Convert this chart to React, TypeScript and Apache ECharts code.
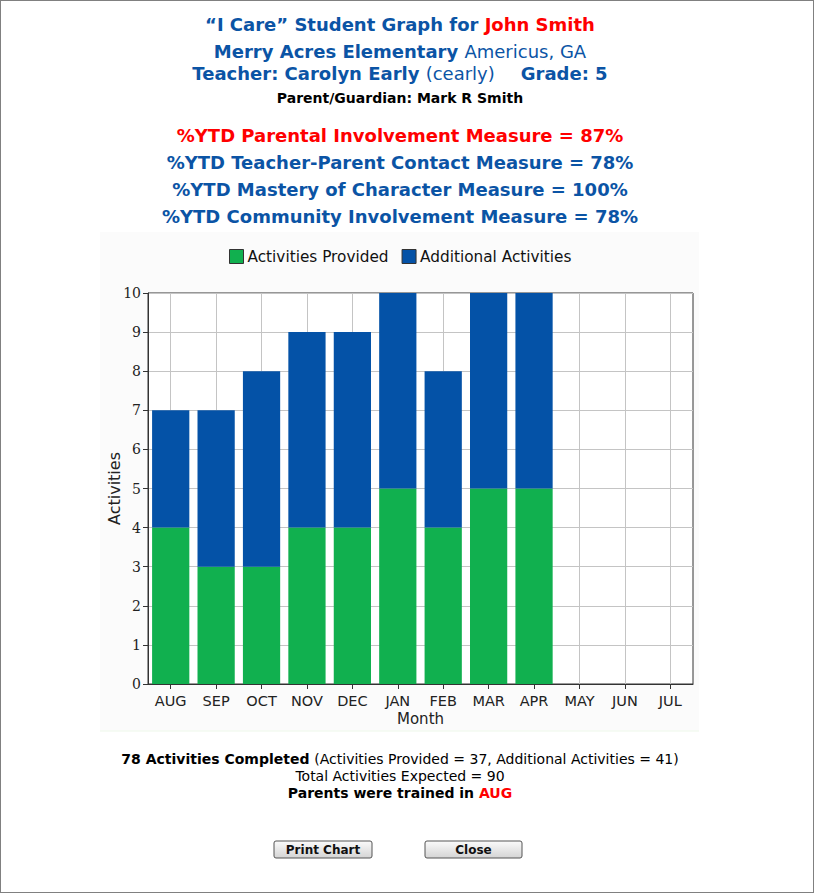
import React, { useEffect, useRef } from "react";
import * as echarts from "echarts";

const months = ["AUG", "SEP", "OCT", "NOV", "DEC", "JAN", "FEB", "MAR", "APR", "MAY", "JUN", "JUL"];
const provided = [4, 3, 3, 4, 4, 5, 4, 5, 5, null, null, null];
const additional = [3, 4, 5, 5, 5, 5, 4, 5, 5, null, null, null];
const seriesNames = ["Activities Provided", "Additional Activities"];
const yTicks = { min: 0, max: 10, interval: 1 };

const BLUE = "#0B54A5";
const RED = "#FF0000";
const GREEN_BAR = "#11B04F";
const BLUE_BAR = "#0452A7";
const FONT = "DejaVu Sans";

export default function App() {
  const ref = useRef<HTMLDivElement>(null);

  useEffect(() => {
    const chart = echarts.init(ref.current!, null, { renderer: "svg" });
    const cx = 400;
    const txt = (y: number, text: string, rich: any) => ({
      type: "text",
      x: cx,
      y,
      style: { text, rich, align: "center", verticalAlign: "middle", fontFamily: FONT },
    });
    const button = (x: number, w: number, label: string) => ({
      type: "group",
      x,
      y: 841,
      children: [
        {
          type: "rect",
          shape: { x: 0, y: 0, width: w, height: 17, r: 2 },
          style: {
            fill: new echarts.graphic.LinearGradient(0, 0, 0, 1, [
              { offset: 0, color: "#fbfbfb" },
              { offset: 1, color: "#d4d4d4" },
            ]),
            stroke: "#555555",
            lineWidth: 1,
          },
        },
        {
          type: "text",
          x: w / 2,
          y: 9,
          style: {
            text: label,
            align: "center",
            verticalAlign: "middle",
            fontFamily: FONT,
            fontWeight: "bold",
            fontSize: 12,
            fill: "#111",
          },
        },
      ],
    });

    chart.setOption({
      animation: false,
      backgroundColor: "#ffffff",
      color: [GREEN_BAR, BLUE_BAR],
      graphic: [
        {
          type: "rect",
          z: -10,
          shape: { x: 100, y: 232, width: 599, height: 499 },
          style: { fill: "#fbfbfb", stroke: null },
        },
        {
          type: "line",
          z: -10,
          shape: { x1: 100, y1: 731, x2: 699, y2: 731 },
          style: { stroke: "#eef8ea", lineWidth: 1 },
        },
        txt(24, "{a|“I Care” Student Graph for }{b|John Smith}", {
          a: { fontSize: 18, fontWeight: "bold", fill: BLUE, fontFamily: FONT },
          b: { fontSize: 18, fontWeight: "bold", fill: RED, fontFamily: FONT },
        }),
        txt(51, "{a|Merry Acres Elementary }{b|Americus, GA}", {
          a: { fontSize: 18, fontWeight: "bold", fill: BLUE, fontFamily: FONT },
          b: { fontSize: 18, fill: BLUE, fontFamily: FONT },
        }),
        txt(73, "{a|Teacher: Carolyn Early }{b|(cearly)}{c|Grade: 5}", {
          a: { fontSize: 18, fontWeight: "bold", fill: BLUE, fontFamily: FONT },
          b: { fontSize: 18, fill: BLUE, fontFamily: FONT },
          c: { fontSize: 18, fontWeight: "bold", fill: BLUE, fontFamily: FONT, padding: [0, 0, 0, 26] },
        }),
        txt(98, "{a|Parent/Guardian: Mark R Smith}", {
          a: { fontSize: 14, fontWeight: "bold", fill: "#000", fontFamily: FONT },
        }),
        txt(135, "{a|%YTD Parental Involvement Measure = 87%}", {
          a: { fontSize: 18, fontWeight: "bold", fill: RED, fontFamily: FONT },
        }),
        txt(162, "{a|%YTD Teacher-Parent Contact Measure = 78%}", {
          a: { fontSize: 18, fontWeight: "bold", fill: BLUE, fontFamily: FONT },
        }),
        txt(189, "{a|%YTD Mastery of Character Measure = 100%}", {
          a: { fontSize: 18, fontWeight: "bold", fill: BLUE, fontFamily: FONT },
        }),
        txt(216, "{a|%YTD Community Involvement Measure = 78%}", {
          a: { fontSize: 18, fontWeight: "bold", fill: BLUE, fontFamily: FONT },
        }),
        txt(759, "{a|78 Activities Completed }{b|(Activities Provided = 37, Additional Activities = 41)}", {
          a: { fontSize: 14, fontWeight: "bold", fill: "#000", fontFamily: FONT },
          b: { fontSize: 14, fill: "#000", fontFamily: FONT },
        }),
        txt(776, "{b|Total Activities Expected = 90}", {
          b: { fontSize: 14, fill: "#000", fontFamily: FONT },
        }),
        txt(793, "{a|Parents were trained in }{r|AUG}", {
          a: { fontSize: 14, fontWeight: "bold", fill: "#000", fontFamily: FONT },
          r: { fontSize: 14, fontWeight: "bold", fill: RED, fontFamily: FONT },
        }),
        button(274, 98, "Print Chart"),
        button(425, 97, "Close"),
      ],
      legend: {
        top: 244,
        left: 224,
        itemWidth: 14,
        itemHeight: 14,
        itemGap: 13,
        icon: "rect",
        itemStyle: { borderColor: "#333", borderWidth: 1 },
        textStyle: { fontFamily: FONT, fontSize: 15.3, color: "#111", padding: [0, 0, 0, -1] },
        data: seriesNames,
      },
      grid: {
        left: 148,
        right: 121,
        top: 293,
        bottom: 209,
        show: true,
        borderColor: "#333",
        borderWidth: 1,
        backgroundColor: "#ffffff",
      },
      xAxis: {
        type: "category",
        data: months,
        boundaryGap: true,
        name: "Month",
        nameLocation: "middle",
        nameGap: 27,
        nameTextStyle: { fontFamily: FONT, fontSize: 15, color: "#222" },
        axisLine: { lineStyle: { color: "#333", width: 1 } },
        axisTick: { show: true, alignWithLabel: true, length: 5, lineStyle: { color: "#333" } },
        axisLabel: { fontFamily: FONT, fontSize: 14.5, color: "#222", margin: 9, interval: 0 },
        splitLine: { show: true, alignWithLabel: true, interval: 0, lineStyle: { color: "#c4c4c4", width: 1 } },
      },
      yAxis: {
        type: "value",
        min: yTicks.min,
        max: yTicks.max,
        interval: yTicks.interval,
        name: "Activities",
        nameLocation: "middle",
        nameGap: 26,
        nameMoveOverlap: false,
        nameTextStyle: { fontFamily: FONT, fontSize: 16, color: "#222" },
        axisLine: { show: true, lineStyle: { color: "#333", width: 1 } },
        axisTick: { show: true, length: 5, lineStyle: { color: "#333" } },
        axisLabel: { fontFamily: "DejaVu Serif", fontSize: 14, color: "#222", margin: 7 },
        splitLine: { show: true, lineStyle: { color: "#c4c4c4", width: 1 } },
      },
      series: [
        {
          name: seriesNames[0],
          type: "bar",
          stack: "total",
          data: provided,
          barCategoryGap: "18%",
          itemStyle: { color: GREEN_BAR },
        },
        {
          name: seriesNames[1],
          type: "bar",
          stack: "total",
          data: additional,
          barCategoryGap: "18%",
          itemStyle: { color: BLUE_BAR },
        },
      ],
    });
    return () => chart.dispose();
  }, []);

  return (
    <div
      style={{
        position: "fixed",
        left: 0,
        top: 0,
        width: 814,
        height: 893,
        boxSizing: "border-box",
        border: "1px solid #808080",
        background: "#fff",
        overflow: "hidden",
      }}
    >
      <div ref={ref} style={{ position: "absolute", left: -1, top: -1, width: 814, height: 893 }} />
    </div>
  );
}
